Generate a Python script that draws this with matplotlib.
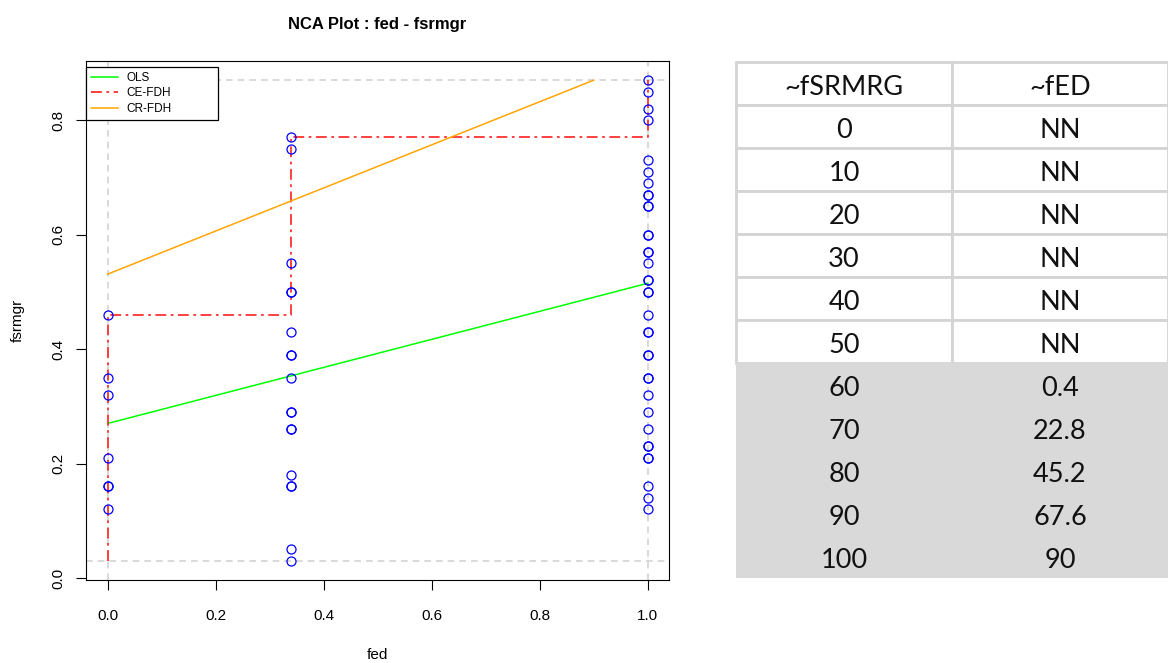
import numpy as np
import matplotlib.pyplot as plt
from matplotlib.patches import Rectangle

# scatter data: fsrmgr values at each fed level
fed_levels = [0.0, 0.34, 1.0]
fsrmgr_at_0 = [0.46, 0.35, 0.32, 0.21, 0.16, 0.16, 0.12]
fsrmgr_at_034 = [0.77, 0.75, 0.55, 0.50, 0.50, 0.43, 0.39, 0.39, 0.35, 0.29, 0.29,
                 0.26, 0.26, 0.18, 0.16, 0.16, 0.05, 0.03]
fsrmgr_at_1 = [0.87, 0.85, 0.82, 0.80, 0.73, 0.71, 0.69, 0.67, 0.67, 0.65, 0.65, 0.60,
               0.60, 0.57, 0.57, 0.55, 0.52, 0.52, 0.50, 0.50, 0.46, 0.43, 0.43, 0.39,
               0.39, 0.35, 0.35, 0.32, 0.29, 0.26, 0.23, 0.23, 0.21, 0.21, 0.16, 0.14, 0.12]

# ceiling lines
ols_x = [0.0, 1.0]
ols_y = [0.27, 0.515]
ce_x = [0.0, 0.0, 0.34, 0.34, 1.0, 1.0]
ce_y = [0.03, 0.46, 0.46, 0.77, 0.77, 0.87]
cr_x = [0.0, 0.9]
cr_y = [0.531, 0.87]

# scope
x_min, x_max = 0.0, 1.0
y_min, y_max = 0.03, 0.87

# bottleneck table
tbl_header = ['~fSRMRG', '~fED']
tbl_fsrmgr = ['0', '10', '20', '30', '40', '50', '60', '70', '80', '90', '100']
tbl_fed = ['NN', 'NN', 'NN', 'NN', 'NN', 'NN', '0.4', '22.8', '45.2', '67.6', '90']
n_white = 6

W, H = 1168, 663
fig = plt.figure(figsize=(W / 100, H / 100), dpi=100)
plt.rcParams['font.family'] = ['Liberation Sans', 'DejaVu Sans']

ax = fig.add_axes([86 / W, (H - 580) / H, 583.2 / W, 519 / H])

# scope lines
for yv in [y_min, y_max]:
    ax.axhline(yv, color='#d3d3d3', lw=1.2, ls=(0, (4, 3)), zorder=1)
for xv in [x_min, x_max]:
    ax.axvline(xv, color='#d3d3d3', lw=1.2, ls=(0, (4, 3)), zorder=1)

groups = [fsrmgr_at_0, fsrmgr_at_034, fsrmgr_at_1]
for lvl, ys in zip(fed_levels, groups):
    ax.plot([lvl] * len(ys), ys, 'o', mfc='none', mec='blue', ms=6.5, mew=0.9, zorder=3)

l1, = ax.plot(ols_x, ols_y, color='#00ff00', lw=1.1, zorder=2, label='OLS')
l2, = ax.plot(ce_x, ce_y, color='#ff3030', lw=1.3, ls=(0, (6, 2.5, 1.5, 2.5)), zorder=2, label='CE-FDH')
l3, = ax.plot(cr_x, cr_y, color='orange', lw=1.1, zorder=2, label='CR-FDH')

ax.set_xlim(-0.04, 1.04)
ax.set_ylim(-0.0036, 0.9036)
ax.set_xticks([0.0, 0.2, 0.4, 0.6, 0.8, 1.0])
ax.set_yticks([0.0, 0.2, 0.4, 0.6, 0.8])
ax.tick_params(axis='both', direction='out', length=7, width=0.8, labelsize=11)
ax.tick_params(axis='x', pad=14)
ax.tick_params(axis='y', pad=8)
for lab in ax.get_yticklabels():
    lab.set_rotation(90)
    lab.set_va('center')
for s in ax.spines.values():
    s.set_linewidth(0.8)

ax.set_xlabel('fed', fontsize=11, labelpad=18)
ax.set_ylabel('fsrmgr', fontsize=11, labelpad=19)
ax.set_title('NCA Plot : fed - fsrmgr', fontsize=12, fontweight='bold', pad=23)

leg = ax.legend(handles=[l1, l2, l3], loc='upper left',
                bbox_to_anchor=(0, 1 - 58 / 519, 132 / 583.2, 52 / 519), mode='expand',
                borderaxespad=0, fontsize=8.5, frameon=True, fancybox=False,
                handlelength=2.3, handletextpad=0.7, borderpad=0.4, labelspacing=0.3)
leg.get_frame().set_edgecolor('black')
leg.get_frame().set_linewidth(0.9)
leg.get_frame().set_alpha(1)

# table
tx = fig.add_axes([736 / W, (H - 578) / H, 432 / W, 516 / H])
tx.set_xlim(0, 2)
n_rows = len(tbl_fsrmgr) + 1
tx.set_ylim(n_rows, 0)
tx.axis('off')
grid_c = '#d4d4d4'
rows = [tbl_header] + [[a, b] for a, b in zip(tbl_fsrmgr, tbl_fed)]
for i, (a, b) in enumerate(rows):
    if i <= n_white:
        for j in range(2):
            tx.add_patch(Rectangle((j, i), 1, 1, facecolor='white', edgecolor=grid_c,
                                   lw=2.0, clip_on=False))
    else:
        tx.add_patch(Rectangle((0, i), 2, 1, facecolor='#d9d9d9', edgecolor='none',
                               clip_on=False))
    for j, t in enumerate([a, b]):
        tx.text(j + 0.5, i + 0.6, t, ha='center', va='center', fontsize=19.5,
                family=['Lato', 'DejaVu Sans'], color='#111111')

fig.savefig('out.png', dpi=100)
